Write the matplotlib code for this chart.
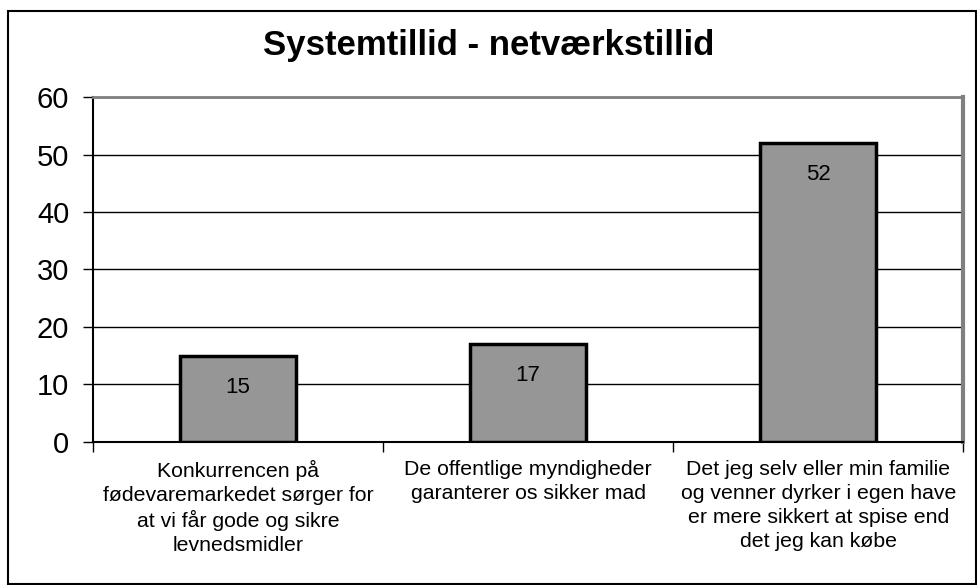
import matplotlib.pyplot as plt
import numpy as np
from matplotlib.patches import Rectangle

plt.rcParams['font.family'] = ['Liberation Sans', 'DejaVu Sans']

categories = ['Konkurrencen på\nfødevaremarkedet sørger for\nat vi får gode og sikre\nlevnedsmidler',
              'De offentlige myndigheder\ngaranterer os sikker mad',
              'Det jeg selv eller min familie\nog venner dyrker i egen have\ner mere sikkert at spise end\ndet jeg kan købe']
values = [15, 17, 52]
yticks = [0, 10, 20, 30, 40, 50, 60]

fig = plt.figure(figsize=(9.78, 5.85), dpi=100)
ax = fig.add_axes([0.095, 0.245, 0.89, 0.589])

x = np.arange(len(values))
ax.set_axisbelow(True)
ax.bar(x, values, width=0.4, color='#969696', edgecolor='black', linewidth=2.5, zorder=3)
for xi, v in zip(x, values):
    ax.annotate(str(v), (xi, v), xytext=(0, -23), textcoords='offset points',
                ha='center', va='center', fontsize=16, zorder=4)

ax.set_xlim(-0.5, len(values) - 0.5)
ax.set_ylim(0, 60)
ax.set_yticks(yticks)
ax.tick_params(axis='y', labelsize=21, length=7, width=1, direction='out', pad=10)
ax.yaxis.grid(True, color='black', linewidth=1)

# category boundary ticks, labels as text
ax.set_xticks(np.arange(len(values) + 1) - 0.5)
ax.set_xticklabels([])
ax.tick_params(axis='x', length=7, width=1, direction='out')
for xi, lab in zip(x, categories):
    ax.annotate(lab, (xi, 0), xytext=(0, -13), textcoords='offset points',
                ha='center', va='top', fontsize=15.3, linespacing=1.33)

ax.spines['left'].set_color('black')
ax.spines['bottom'].set_color('black')
ax.spines['left'].set_linewidth(1.5)
ax.spines['bottom'].set_linewidth(1.5)
ax.spines['top'].set_color('#808080')
ax.spines['right'].set_color('#808080')
ax.spines['top'].set_linewidth(2)
ax.spines['right'].set_linewidth(3)

fig.text(0.5, 0.906, 'Systemtillid - netværkstillid', ha='center', va='baseline',
         fontsize=25, fontweight='bold')

fig.patches.append(Rectangle((0.008, 0.002), 0.99, 0.979, transform=fig.transFigure,
                             fill=False, edgecolor='black', linewidth=1.5))

fig.savefig('out.png', dpi=100)
